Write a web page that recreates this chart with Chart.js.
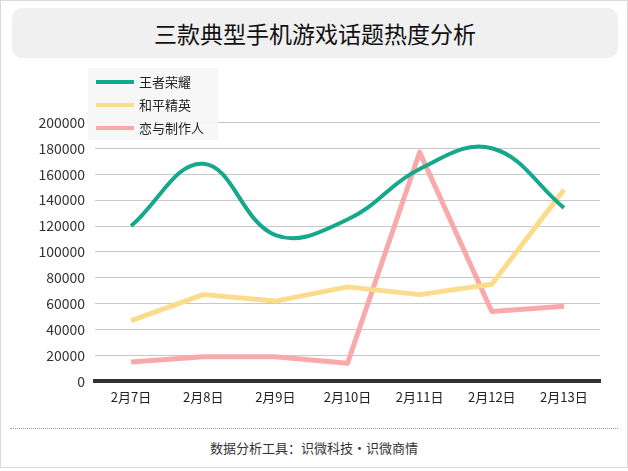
<!DOCTYPE html>
<html>
<head>
<meta charset="utf-8">
<script src="https://cdn.jsdelivr.net/npm/chart.js@4/dist/chart.umd.min.js"></script>
<style>
  html, body { margin: 0; padding: 0; background: #fff; }
  body { width: 628px; height: 471px; position: relative; overflow: hidden;
         font-family: "Noto Sans CJK SC", "Noto Sans", sans-serif; }
  #frame { position: absolute; left: 0; top: 0; width: 626px; height: 466px;
           border: 1px solid #d9d9d9; }
  #title { position: absolute; left: 12px; top: 8px; width: 606px; height: 50px;
           background: #f0f0f0; border-radius: 10px; text-align: center;
           line-height: 50px; font-size: 23px; color: #111; }
  #chartBox { position: absolute; left: 0; top: 104px; width: 628px; height: 301px; }
  #legend { position: absolute; left: 88px; top: 68px; width: 130px; height: 72px;
            background: rgba(246, 246, 246, 0.9); }
  .item { position: absolute; left: 8px; height: 22px; font-size: 13px; color: #222;
          line-height: 22px; white-space: nowrap; }
  .swatch { display: inline-block; width: 38px; height: 4px; vertical-align: middle;
            margin-right: 5px; margin-top: -2px; }
  #divider { position: absolute; left: 10px; top: 428px; width: 608px;
             border-top: 1px dotted #999; }
  #footer { position: absolute; left: 0; top: 438px; width: 628px; text-align: center;
            font-size: 13px; color: #333; }
</style>
</head>
<body>
<div id="frame"></div>
<div id="title">三款典型手机游戏话题热度分析</div>
<div id="chartBox"><canvas id="gameChart"></canvas></div>
<div id="legend"></div>
<div id="divider"></div>
<div id="footer">数据分析工具：识微科技・识微商情</div>
<script>
const dates = ["2月7日", "2月8日", "2月9日", "2月10日", "2月11日", "2月12日", "2月13日"];
const wangzhe = [120000, 168000, 113000, 125000, 164000, 180000, 134000];
const heping = [47000, 67000, 62000, 73000, 67000, 75000, 148000];
const lianyu = [15000, 19000, 19000, 14000, 177000, 54000, 58000];

const seriesNames = ["王者荣耀", "和平精英", "恋与制作人"];
const seriesColors = ["#15a88a", "#fbdc8c", "#f9a9a9"];

const fontFamily = '"Noto Sans CJK SC", "Noto Sans", sans-serif';

const chartCanvas = document.getElementById("gameChart");

const datasets = [wangzhe, heping, lianyu].map((values, i) => ({
  label: seriesNames[i],
  data: values,
  borderColor: seriesColors[i],
  backgroundColor: seriesColors[i],
  borderWidth: i === 0 ? 4 : 5,
  tension: i === 0 ? 0.4 : 0,
  pointRadius: 0,
  borderJoinStyle: "round",
  borderCapStyle: "butt",
  fill: false,
}));

// legend drawn as html so it can sit over the plot like the original
const legendBox = document.getElementById("legend");
seriesNames.forEach((name, i) => {
  const item = document.createElement("div");
  item.className = "item";
  item.style.top = (3 + i * 23) + "px";
  item.innerHTML = '<span class="swatch" style="background:' + seriesColors[i] + '"></span>' + name;
  legendBox.appendChild(item);
});

new Chart(chartCanvas, {
  type: "line",
  data: { labels: dates, datasets: datasets },
  options: {
    responsive: true,
    maintainAspectRatio: false,
    animation: false,
    layout: { padding: { top: 18, right: 28, left: 0, bottom: 0 } },
    plugins: { legend: { display: false }, tooltip: { enabled: false } },
    scales: {
      x: {
        offset: true,
        grid: { display: false },
        border: { color: "#333", width: 4 },
        ticks: { color: "#222", font: { family: fontFamily, size: 13 }, padding: 0 },
      },
      y: {
        min: 0,
        max: 200000,
        ticks: {
          stepSize: 20000,
          color: "#333",
          font: { family: fontFamily, size: 14 },
          padding: 10,
          callback: (value) => String(value),
        },
        grid: { color: "#c8c8c8", lineWidth: 1, drawTicks: false },
        border: { display: false },
        afterFit: (scale) => { scale.width = 95; },
      },
    },
  },
});
</script>
</body>
</html>
